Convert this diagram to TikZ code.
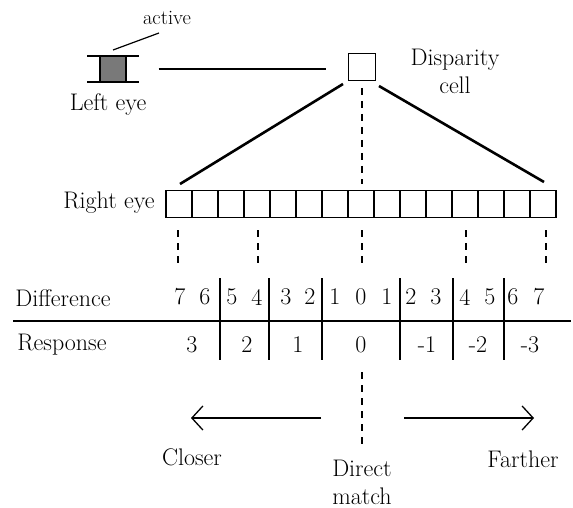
\documentclass[tikz,border=0pt]{standalone}
\usetikzlibrary{arrows.meta}
\begin{document}
\begin{tikzpicture}[x=1pt,y=-1pt,
  txt/.style={inner sep=0pt,font=\fontsize{24}{28}\selectfont},
  small/.style={inner sep=0pt,font=\fontsize{20.5}{24}\selectfont},
  cellbox/.style={draw,line width=1.4pt,minimum width=26pt,minimum height=27pt,inner sep=0pt},
  thickline/.style={line width=2.6pt},
  dashline/.style={line width=1.6pt,dash pattern=on 7pt off 6pt},
  tabline/.style={line width=1.6pt},
  arr/.style={line width=1.3pt,-{Straight Barb[length=11pt,width=24pt,line width=1.3pt]}}]
\useasboundingbox (0,0) rectangle (573,508);
% left eye
\node[draw,fill=gray!95!black,line width=1.4pt,minimum width=26pt,minimum height=26pt,inner sep=0pt] (leye) at (113,69) {};
\coordinate (lt1) at (87,56); \coordinate (lt2) at (139,56);
\coordinate (lb1) at (87,82); \coordinate (lb2) at (139,82);
\draw[line width=1.4pt] (lt1) -- (lt2);
\draw[line width=1.4pt] (lb1) -- (lb2);
\node[small] (active) at (167,18) {active};
\coordinate (la1) at (113,50); \coordinate (la2) at (159,33);
\draw[line width=1.2pt] (la1) -- (la2);
\node[txt] (lefteye) at (108,105) {Left eye};
% disparity cell
\node[draw,line width=1.4pt,minimum width=27pt,minimum height=27pt,inner sep=0pt] (dcell) at (362,67) {};
\node[txt,align=center] (dlabel) at (455,71) {Disparity\\cell};
\draw[thickline,shorten <=32pt,shorten >=22pt] (leye.east) -- (dcell.west |- leye.east);
% right eye cells
\foreach \i in {1,...,15} \node[cellbox] (c\i) at ({166+26*(\i-0.5)},204) {};
\node[txt] (righteye) at (109,203) {Right eye};
\coordinate (d1) at (343,84); \coordinate (d2) at (180,184);
\coordinate (d3) at (379,86); \coordinate (d4) at (544,182);
\draw[thickline] (d1) -- (d2);
\draw[thickline] (d3) -- (d4);
\coordinate (m1) at (362,88); \coordinate (m2) at (362,184);
\draw[dashline] (m1) -- (m2);
% dashed lines below right eye
\foreach \x in {178,258,362,466,546} {
  \coordinate (u\x) at (\x,230); \coordinate (v\x) at (\x,264);
  \draw[dashline] (u\x) -- (v\x);
}
% table
\node[txt] (diff) at (63,298) {Difference};
\node[txt] (resp) at (62,345) {Response};
\coordinate (h1) at (13,321); \coordinate (h2) at (571,321);
\draw[tabline] (h1) -- (h2);
\foreach \x in {220,269,322,400,453,504} {
  \coordinate (t\x) at (\x,278); \coordinate (b\x) at (\x,360);
  \draw[tabline] (t\x) -- (b\x);
}
\foreach \x/\d [count=\k] in {180/7,205/6,232/5,257/4,286/3,310/2,335/1,361/0,387/1,411/2,436/3,465/4,490/5,513/6,539/7}
  \node[txt] (dd\k) at (\x,297) {\d};
\foreach \x/\d [count=\k] in {192/3,247/2,298/1,361/0,427/-1,478/-2,530/-3}
  \node[txt] (rr\k) at (\x,345) {\d};
% bottom
\coordinate (cm1) at (362,372); \coordinate (cm2) at (362,448);
\draw[dashline] (cm1) -- (cm2);
\coordinate (al1) at (321,418); \coordinate (al2) at (191,418);
\coordinate (ar1) at (404,418); \coordinate (ar2) at (534,418);
\draw[arr] (al1) -- (al2);
\draw[arr] (ar1) -- (ar2);
\node[txt] (closer) at (192,457) {Closer};
\node[txt] (farther) at (523,459) {Farther};
\node[txt,align=center] (direct) at (362,482) {Direct\\match};
\end{tikzpicture}
\end{document}
